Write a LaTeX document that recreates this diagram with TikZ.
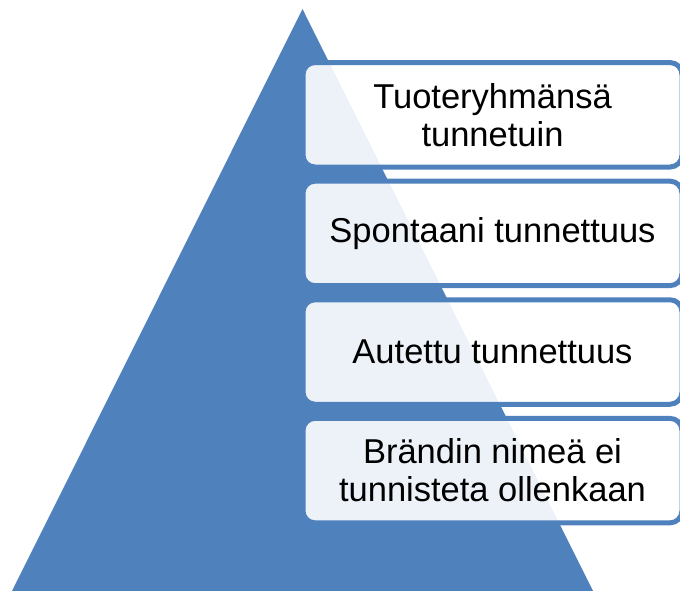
\documentclass[tikz,border=0pt]{standalone}
\usepackage{fontspec}
\setmainfont{Liberation Sans}
\usepackage{tikz}
\usetikzlibrary{positioning}
\definecolor{pyrblue}{RGB}{79,129,189}

\begin{document}
\begin{tikzpicture}[x=1pt,y=-1pt,
  levelbox/.style={draw=pyrblue,line width=5pt,fill=white,fill opacity=0.9,text opacity=1,
    rounded corners=12pt,minimum width=379pt,minimum height=104.5pt,inner sep=0pt,
    align=center,font=\fontsize{34.5}{38}\selectfont}]
\clip (0,0) rectangle (680,591);
% Pyramid
\fill[pyrblue] (302.5,9) -- (593,591) -- (12,591) -- cycle;
% Levels
\node[levelbox] (known) at (492.5,114.8) {Tuoteryhmänsä\\tunnetuin};
\node[levelbox] (spont) at (492.5,233.4) {Spontaani tunnettuus};
\node[levelbox] (aided) at (492.5,352.0) {Autettu tunnettuus};
\node[levelbox] (none) at (492.5,470.6) {Brändin nimeä ei\\tunnisteta ollenkaan};
\end{tikzpicture}
\end{document}
